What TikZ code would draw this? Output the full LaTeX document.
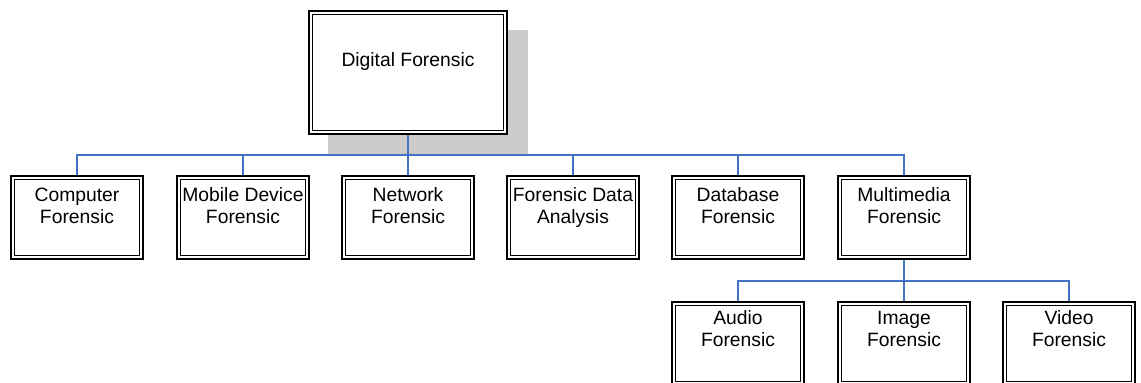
\documentclass[tikz,border=0pt]{standalone}
\usepackage{fontspec}
\setmainfont{Liberation Sans}
\definecolor{conncol}{HTML}{4472C4}
\definecolor{shadowcol}{HTML}{CCCCCC}
\tikzset{
  box/.style={draw=black, line width=1.6pt, double=white, double distance=2pt,
    fill=white, inner sep=0pt, outer sep=2.6pt,
    minimum width=128.8pt, minimum height=79.8pt},
  rootbox/.style={box, minimum width=194.8pt, minimum height=119.8pt},
  txt/.style={inner sep=0pt, align=center, font=\fontsize{19.3}{21.7}\selectfont},
  conn/.style={draw=conncol, line width=2pt},
}
\begin{document}
\begin{tikzpicture}[x=1pt,y=-1pt]
\useasboundingbox (0,0) rectangle (1141,383);
\clip (0,0) rectangle (1141,383);
% shadow of root
\fill[shadowcol] (328,30) rectangle (528,155);
% nodes
\node[rootbox] (root) at (408,72.5) {};
\node[box] (comp)  at (77,217.5) {};
\node[box] (mob)   at (243,217.5) {};
\node[box] (net)   at (408,217.5) {};
\node[box] (fda)   at (573,217.5) {};
\node[box] (db)    at (738,217.5) {};
\node[box] (mm)    at (904,217.5) {};
\node[box] (aud)   at (738,343.5) {};
\node[box] (img)   at (904,343.5) {};
\node[box] (vid)   at (1069,343.5) {};
% labels
\node[txt, anchor=base] (rootT) at (408,66.7) {Digital Forensic};
\node[txt, anchor=north] (compT) at (77,186.5) {\strut Computer\\Forensic};
\node[txt, anchor=north] (mobT)  at (243,186.5) {\strut Mobile Device\\Forensic};
\node[txt, anchor=north] (netT)  at (408,186.5) {\strut Network\\Forensic};
\node[txt, anchor=north] (fdaT)  at (573,186.5) {\strut Forensic Data\\Analysis};
\node[txt, anchor=north] (dbT)   at (738,186.5) {\strut Database\\Forensic};
\node[txt, anchor=north] (mmT)   at (904,186.5) {\strut Multimedia\\Forensic};
\node[txt, anchor=north] (audT)  at (738,309.3) {\strut Audio\\Forensic};
\node[txt, anchor=north] (imgT)  at (904,309.3) {\strut Image\\Forensic};
\node[txt, anchor=north] (vidT)  at (1069,309.3) {\strut Video\\Forensic};
% buses
\coordinate (bus1) at (0,155);
\coordinate (bus2) at (0,281);
% connectors
\draw[conn] (root.south) -- (net.north);
\draw[conn] (comp.north) |- (mm.north |- bus1) -- (mm.north);
\draw[conn] (mob.north) -- (mob.north |- bus1);
\draw[conn] (fda.north) -- (fda.north |- bus1);
\draw[conn] (db.north) -- (db.north |- bus1);
\draw[conn] (mm.south) -- (img.north);
\draw[conn] (aud.north) |- (vid.north |- bus2) -- (vid.north);
\end{tikzpicture}
\end{document}
